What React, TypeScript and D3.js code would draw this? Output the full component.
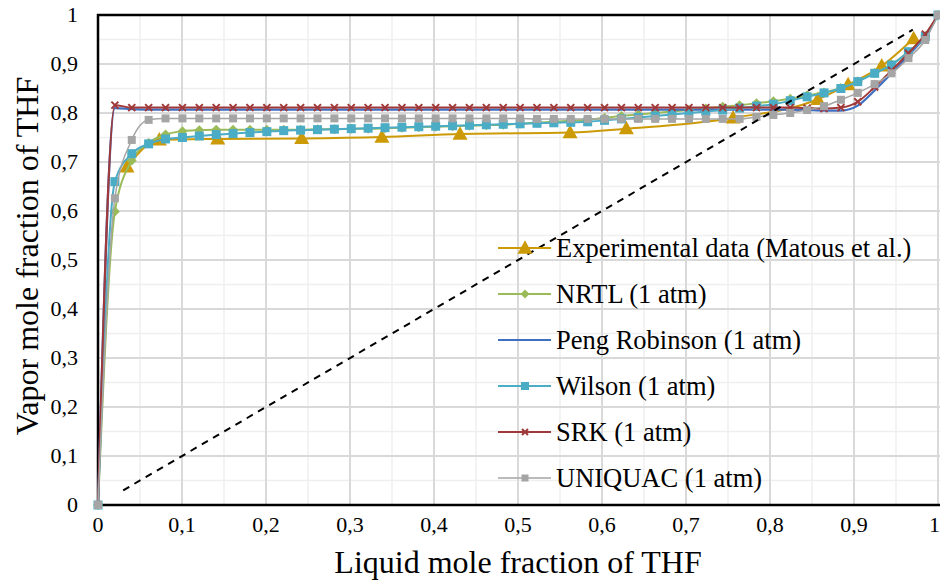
import React from "react";
import * as d3 from "d3";

const W = 940;
const H = 582;

const xGrid = [0, 0.0201, 0.0402, 0.0603, 0.0804, 0.1005, 0.1206, 0.1407, 0.1608, 0.1809, 0.201, 0.2211, 0.2412, 0.2613, 0.2814, 0.3015, 0.3216, 0.3417, 0.3618, 0.3819, 0.402, 0.4221, 0.4422, 0.4623, 0.4824, 0.5025, 0.5226, 0.5427, 0.5628, 0.5829, 0.603, 0.6231, 0.6432, 0.6633, 0.6834, 0.7035, 0.7236, 0.7437, 0.7638, 0.7839, 0.804, 0.8241, 0.8442, 0.8643, 0.8844, 0.9045, 0.9246, 0.9447, 0.9648, 0.9849, 1];

const srkY = [0, 0.816, 0.811, 0.811, 0.811, 0.811, 0.811, 0.811, 0.811, 0.811, 0.811, 0.811, 0.811, 0.811, 0.811, 0.811, 0.811, 0.811, 0.811, 0.811, 0.811, 0.811, 0.811, 0.811, 0.811, 0.811, 0.811, 0.811, 0.811, 0.811, 0.811, 0.811, 0.811, 0.811, 0.811, 0.811, 0.811, 0.811, 0.811, 0.811, 0.811, 0.811, 0.81, 0.809, 0.811, 0.823, 0.853, 0.887, 0.922, 0.961, 1];

const prY = [0, 0.81, 0.808, 0.807, 0.807, 0.807, 0.807, 0.807, 0.807, 0.807, 0.807, 0.807, 0.807, 0.807, 0.807, 0.807, 0.807, 0.807, 0.807, 0.807, 0.807, 0.807, 0.807, 0.807, 0.807, 0.807, 0.807, 0.807, 0.807, 0.807, 0.807, 0.807, 0.807, 0.807, 0.807, 0.807, 0.807, 0.807, 0.807, 0.807, 0.807, 0.807, 0.806, 0.805, 0.805, 0.815, 0.846, 0.881, 0.918, 0.957, 1];

const wilsonY = [0, 0.66, 0.717, 0.737, 0.747, 0.75, 0.753, 0.756, 0.758, 0.76, 0.762, 0.764, 0.765, 0.766, 0.767, 0.768, 0.769, 0.77, 0.771, 0.772, 0.773, 0.774, 0.775, 0.776, 0.777, 0.778, 0.779, 0.78, 0.781, 0.782, 0.785, 0.788, 0.791, 0.794, 0.797, 0.8, 0.803, 0.806, 0.81, 0.814, 0.818, 0.825, 0.833, 0.841, 0.85, 0.864, 0.881, 0.898, 0.925, 0.956, 1];

const nrtlY = [0, 0.599, 0.703, 0.739, 0.756, 0.763, 0.765, 0.766, 0.766, 0.766, 0.766, 0.766, 0.766, 0.767, 0.767, 0.768, 0.768, 0.769, 0.77, 0.771, 0.772, 0.773, 0.774, 0.775, 0.776, 0.778, 0.78, 0.782, 0.784, 0.786, 0.79, 0.794, 0.797, 0.8, 0.803, 0.806, 0.809, 0.813, 0.816, 0.82, 0.824, 0.829, 0.836, 0.842, 0.851, 0.865, 0.882, 0.899, 0.925, 0.957, 1];

const uniquacY = [0, 0.626, 0.745, 0.786, 0.789, 0.789, 0.789, 0.789, 0.789, 0.789, 0.789, 0.789, 0.789, 0.789, 0.789, 0.789, 0.789, 0.789, 0.789, 0.789, 0.789, 0.789, 0.789, 0.789, 0.789, 0.789, 0.788, 0.788, 0.788, 0.788, 0.788, 0.788, 0.788, 0.788, 0.788, 0.788, 0.788, 0.788, 0.788, 0.792, 0.796, 0.8, 0.806, 0.814, 0.827, 0.841, 0.859, 0.881, 0.912, 0.949, 1];

const expX = [0.0345, 0.073, 0.1425, 0.2425, 0.338, 0.431, 0.562, 0.629, 0.756, 0.857, 0.893, 0.933, 0.971];
const expY = [0.69, 0.745, 0.747, 0.748, 0.751, 0.757, 0.76, 0.768, 0.79, 0.828, 0.858, 0.896, 0.952];

const diagX = [0.03, 0.97];

const xTicks = [0, 0.1, 0.2, 0.3, 0.4, 0.5, 0.6, 0.7, 0.8, 0.9, 1];
const yTicks = [0, 0.1, 0.2, 0.3, 0.4, 0.5, 0.6, 0.7, 0.8, 0.9, 1];
const minorTicks = [0.05, 0.15, 0.25, 0.35, 0.45, 0.55, 0.65, 0.75, 0.85, 0.95];

const legendLabels = [
  "Experimental data (Matous et al.)",
  "NRTL (1 atm)",
  "Peng Robinson (1 atm)",
  "Wilson (1 atm)",
  "SRK (1 atm)",
  "UNIQUAC (1 atm)",
];

const C_EXP = "#CC9A06";
const C_NRTL = "#9BBB59";
const C_PR = "#3F6FC0";
const C_WIL = "#4BACC6";
const C_SRK = "#A0393A";
const C_UNI = "#A5A5A5";

const FONT = "'Liberation Serif', 'Times New Roman', serif";

const fmt = (v: number) => (v === 0 ? "0" : v === 1 ? "1" : String(v).replace(".", ","));

type MarkerKind = "triangle" | "diamond" | "square" | "x" | "none";

function Marker({ kind, x, y, color, size }: { kind: MarkerKind; x: number; y: number; color: string; size: number }) {
  const s = size / 2;
  if (kind === "triangle") {
    return <path d={`M${x},${y - s * 1.05} L${x + s},${y + s * 0.75} L${x - s},${y + s * 0.75} Z`} fill={color} />;
  }
  if (kind === "diamond") {
    return <path d={`M${x},${y - s} L${x + s},${y} L${x},${y + s} L${x - s},${y} Z`} fill={color} />;
  }
  if (kind === "square") {
    return <rect x={x - s} y={y - s} width={size} height={size} fill={color} />;
  }
  if (kind === "x") {
    return (
      <path d={`M${x - s},${y - s} L${x + s},${y + s} M${x - s},${y + s} L${x + s},${y - s}`} stroke={color} strokeWidth={2} />
    );
  }
  return null;
}

export default function App() {
  const x = d3.scaleLinear().domain([0, 1]).range([98, 938]);
  const y = d3.scaleLinear().domain([0, 1]).range([505, 15]);

  const line = d3
    .line<[number, number]>()
    .x((d) => x(d[0]))
    .y((d) => y(d[1]))
    .curve(d3.curveMonotoneX);

  const series = [
    { xs: expX, ys: expY, color: C_EXP, marker: "triangle" as MarkerKind, size: 15, width: 2 },
    { xs: xGrid, ys: nrtlY, color: C_NRTL, marker: "diamond" as MarkerKind, size: 10, width: 2 },
    { xs: xGrid, ys: prY, color: C_PR, marker: "none" as MarkerKind, size: 0, width: 2.2 },
    { xs: xGrid, ys: wilsonY, color: C_WIL, marker: "square" as MarkerKind, size: 9, width: 2 },
    { xs: xGrid, ys: srkY, color: C_SRK, marker: "x" as MarkerKind, size: 7, width: 2 },
    { xs: xGrid, ys: uniquacY, color: C_UNI, marker: "square" as MarkerKind, size: 8, width: 1.5 },
  ];

  return (
    <svg width={W} height={H} style={{ position: "absolute", left: 0, top: 0, background: "#fff" }}>
      <rect x={0} y={0} width={W} height={H} fill="#fff" />
      {minorTicks.map((t) => (
        <g key={"m" + t}>
          <line x1={x(t)} x2={x(t)} y1={y(0)} y2={y(1)} stroke="#efefef" strokeWidth={1.5} />
          <line x1={x(0)} x2={x(1) + 2} y1={y(t)} y2={y(t)} stroke="#efefef" strokeWidth={1.5} />
        </g>
      ))}
      {xTicks.slice(1).map((t) => (
        <g key={"g" + t}>
          <line x1={x(t)} x2={x(t)} y1={y(0)} y2={y(1)} stroke="#d9d9d9" strokeWidth={2} />
          <line x1={x(0)} x2={x(1) + 2} y1={y(t)} y2={y(t)} stroke="#d9d9d9" strokeWidth={2} />
        </g>
      ))}

      <line x1={x(0)} x2={x(0)} y1={y(0)} y2={y(1) - 1} stroke="#000" strokeWidth={2.5} />
      <line x1={x(0) - 1} x2={W} y1={y(0)} y2={y(0)} stroke="#000" strokeWidth={2.5} />
      <line x1={x(0) - 1} x2={W} y1={y(1)} y2={y(1)} stroke="#000" strokeWidth={2.5} />

      {series.map((s, i) => {
        const pts: [number, number][] = s.xs.map((v, k) => [v, s.ys[k]]);
        return (
          <g key={"s" + i}>
            <path d={line(pts) || ""} fill="none" stroke={s.color} strokeWidth={s.width} />
            {s.marker !== "none" &&
              pts.map((p, k) => <Marker key={k} kind={s.marker} x={x(p[0])} y={y(p[1])} color={s.color} size={s.size} />)}
          </g>
        );
      })}

      <line x1={x(diagX[0])} y1={y(diagX[0])} x2={x(diagX[1])} y2={y(diagX[1])} stroke="#000" strokeWidth={2} strokeDasharray="7,6" />

      {xTicks.map((t) => (
        <text key={"xt" + t} x={t === 1 ? 940 : x(t)} y={532} fontSize={22} textAnchor={t === 1 ? "end" : "middle"} fill="#000" fontFamily={FONT}>
          {fmt(t)}
        </text>
      ))}
      {yTicks.map((t) => (
        <text key={"yt" + t} x={78} y={y(t) + 7} fontSize={22} textAnchor="end" fill="#000" fontFamily={FONT}>
          {fmt(t)}
        </text>
      ))}

      <text x={518} y={573} fontSize={32} textAnchor="middle" fill="#000" fontFamily={FONT}>
        Liquid mole fraction of THF
      </text>
      <text transform={`translate(38,256) rotate(-90)`} fontSize={32} textAnchor="middle" fill="#000" fontFamily={FONT}>
        Vapor mole fraction of THF
      </text>

      {series.map((s, i) => {
        const cy = 248 + i * 46;
        return (
          <g key={"lg" + i}>
            <line x1={498} x2={551} y1={cy} y2={cy} stroke={s.color} strokeWidth={s.width} />
            {s.marker !== "none" && <Marker kind={s.marker} x={525} y={cy} color={s.color} size={s.marker === "triangle" ? 15 : s.size - 1} />}
            <text x={556} y={cy + 9} fontSize={26.5} fill="#000" fontFamily={FONT}>
              {legendLabels[i]}
            </text>
          </g>
        );
      })}
    </svg>
  );
}
